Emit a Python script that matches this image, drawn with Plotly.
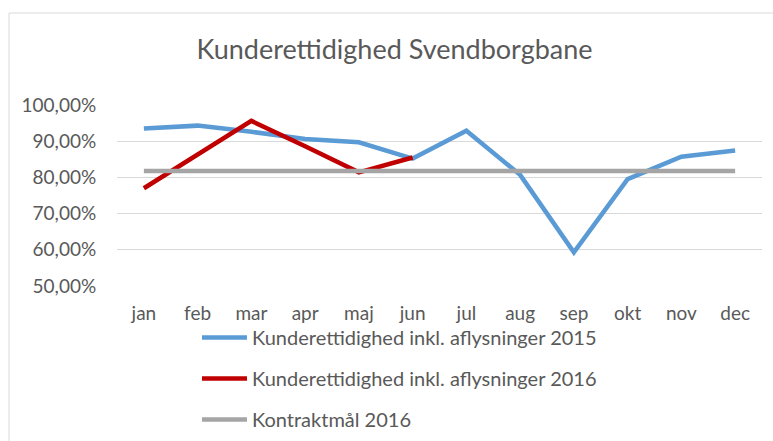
import plotly.graph_objects as go

months = ["jan", "feb", "mar", "apr", "maj", "jun", "jul", "aug", "sep", "okt", "nov", "dec"]
val_2015 = [93.5, 94.3, 92.6, 90.6, 89.7, 85.2, 92.9, 80.7, 59.3, 79.5, 85.7, 87.4]
val_2016 = [77.0, 86.3, 95.6, 88.6, 81.4, 85.5]
target_2016 = [81.8] * 12
y_ticks = [50, 60, 70, 80, 90, 100]
y_tick_labels = ["50,00%", "60,00%", "70,00%", "80,00%", "90,00%", "100,00%"]

FONT = "Lato, 'Open Sans', sans-serif"
TXT = "#595959"

fig = go.Figure()
fig.add_trace(go.Scatter(x=months, y=val_2015, mode="lines",
                         name="Kunderettidighed inkl. aflysninger 2015",
                         line=dict(color="#5B9BD5", width=4.5), legendgroup="a"))
fig.add_trace(go.Scatter(x=months[:len(val_2016)], y=val_2016, mode="lines",
                         name="Kunderettidighed inkl. aflysninger 2016",
                         line=dict(color="#C00000", width=4.5), legendgroup="b"))
fig.add_trace(go.Scatter(x=months, y=target_2016, mode="lines",
                         name="Kontraktmål 2016",
                         line=dict(color="#A5A5A5", width=4.5), legendgroup="c"))

fig.update_layout(
    width=773, height=441,
    margin=dict(l=117, r=11, t=105, b=155, autoexpand=False),
    paper_bgcolor="white", plot_bgcolor="white",
    font=dict(family=FONT, color=TXT, size=19),
    title=dict(text="Kunderettidighed Svendborgbane", x=394.5 / 773, xanchor="center",
               y=1 - 50 / 441, yanchor="middle", font=dict(size=27, color=TXT, family=FONT)),
    showlegend=True,
    legend=dict(x=0.124, xanchor="left", yref="container", y=1 - 318 / 441, yanchor="top",
                orientation="v", tracegroupgap=12, itemwidth=45,
                font=dict(size=20, color=TXT, family=FONT),
                bgcolor="rgba(0,0,0,0)"),
    xaxis=dict(type="category", range=[-0.5, 11.5], showgrid=False, zeroline=False, showline=False,
               ticks="outside", ticklen=10, tickcolor="rgba(0,0,0,0)",
               tickfont=dict(size=19, color=TXT)),
    yaxis=dict(range=[50, 100], tickvals=y_ticks, ticktext=y_tick_labels,
               showgrid=True, gridcolor="#D9D9D9", gridwidth=1, zeroline=False,
               showline=False, ticks="outside", ticklen=16, tickcolor="rgba(0,0,0,0)",
               tickfont=dict(size=19, color=TXT)),
    shapes=[dict(type="rect", xref="paper", yref="paper",
                 x0=(9 - 117) / 645, x1=1.2, y0=-1.0, y1=(286 - 13) / 181,
                 line=dict(color="#D9D9D9", width=1), layer="below")],
)
fig.write_html("out.html", config={"displayModeBar": False},
               post_script="document.body.style.margin='0';")
